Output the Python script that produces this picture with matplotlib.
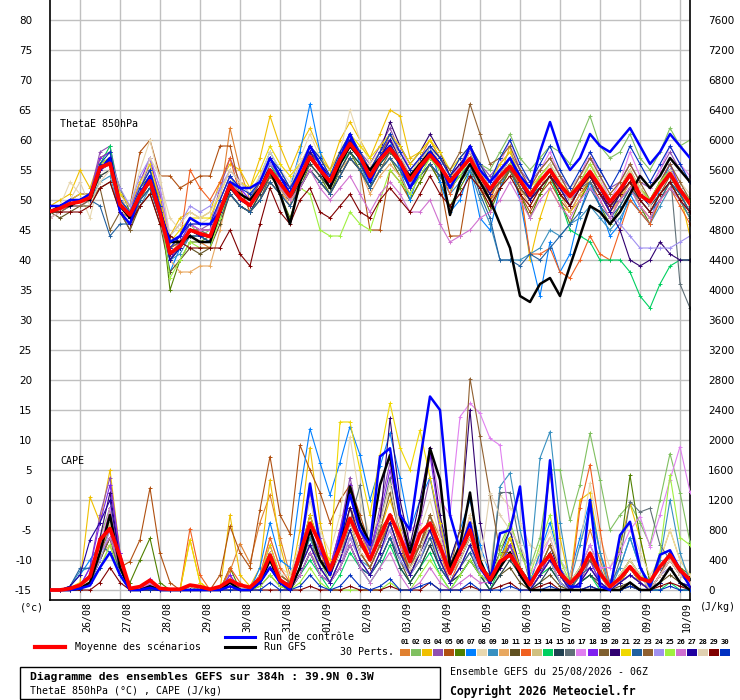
import matplotlib
matplotlib.use('Agg')
import matplotlib.pyplot as plt
from matplotlib.patches import Rectangle
from matplotlib.lines import Line2D
from matplotlib.transforms import blended_transform_factory

# ---------------- data ----------------
hours = list(range(0, 385, 6))            # 25/08 06Z .. 10/09 06Z
day_hours = list(range(18, 384, 24))      # 00Z of each day
day_labels = ['26/08', '27/08', '28/08', '29/08', '30/08', '31/08', '01/09', '02/09',
              '03/09', '04/09', '05/09', '06/09', '07/09', '08/09', '09/09', '10/09']
left_ticks = list(range(-15, 81, 5))
right_ticks = list(range(0, 7601, 400))

pert_colors = ['#e08030', '#80c060', '#f0c000', '#9050b0', '#b05010', '#508000', '#0080ff',
               '#e8d8b0', '#3890c0', '#e8a860', '#605020', '#f06020', '#d0c080', '#00d060',
               '#204050', '#607078', '#e080f0', '#8020f0', '#806030', '#300070', '#f0d800',
               '#2060a0', '#906030', '#a090f0', '#a0f040', '#d070d0', '#2000a0', '#e0d0b0',
               '#800000', '#0030c0']
pert_names = ['%02d' % (k + 1) for k in range(30)]

mean_thetae = [48.1, 48.6, 49.4, 49.7, 50.4, 55.4, 56.1, 49.2, 47.5, 50.8, 53.2, 47.8,
               41.1, 42.3, 45.0, 44.4, 43.9, 48.2, 52.5, 50.3, 49.1, 51.7, 55.0, 52.8,
               50.6, 53.9, 57.2, 55.0, 53.1, 56.7, 59.4, 57.2, 53.9, 56.7, 58.6, 56.4,
               53.3, 55.6, 57.5, 55.6, 53.1, 55.0, 56.9, 54.0, 51.8, 53.9, 55.6, 53.3,
               50.8, 53.1, 55.0, 52.5, 50.6, 52.5, 54.7, 52.2, 49.7, 51.7, 54.2, 50.8,
               49.7, 52.2, 54.4, 51.7, 49.4]
ctrl_thetae = [49, 49, 50, 50, 51, 55, 57, 48, 46, 51, 54, 48, 43, 44, 47, 46, 46, 48, 53, 52,
               52, 53, 57, 54, 51, 55, 59, 56, 53, 57, 61, 57, 53, 57, 59, 56, 52, 55, 58, 56,
               52, 55, 59, 55, 53, 55, 57, 54, 52, 58, 63, 58, 55, 57, 61, 59, 58, 60, 62, 59,
               56, 58, 61, 59, 57]
gfs_thetae = [48, 49, 49, 50, 50, 55, 57, 49, 47, 51, 53, 48, 43, 43, 44, 43, 43, 48, 52, 51,
              50, 52, 55, 51, 46, 53, 57, 55, 52, 56, 59, 57, 55, 57, 59, 56, 54, 56, 58, 56,
              47.5, 53, 56, 53, 50, 46, 42, 34, 33, 36, 37, 34, 39, 44, 49, 48, 46, 48, 51, 54,
              52, 54, 57, 55, 53]

p01_t = [48,49,50,50, 51,57,58,48, 47,52,55,47, 40,43,44,43, 42,50,62,55, 50,53,57,53, 50,55,59,56, 53,58,61,58, 55,58,60,57, 52,57,60,57, 54,56,58,55, 51,55,57,52, 50,54,56,51, 49,53,56,53, 50,52,55,52, 50,53,56,52, 49]
p02_t = [48,48,49,50, 50,55,57,50, 48,51,53,49, 42,43,46,44, 45,50,54,51, 50,52,56,54, 52,55,58,56, 54,57,60,58, 54,57,59,57, 54,57,59,56, 52,56,59,56, 55,58,61,57, 55,57,59,58, 56,60,64,59, 57,58,61,57, 55,58,62,59, 60]
p03_t = [49,50,51,55, 52,57,58,50, 48,52,55,50, 44,47,48,47, 48,53,56,55, 52,57,64,59, 55,59,62,58, 55,60,63,60, 57,61,65,64, 57,58,60,57, 54,55,58,53, 50,54,59,52, 40,47,52,49, 48,50,54,51, 48,50,55,52, 49,53,55,51, 44]
p04_t = [47,48,50,51, 51,58,59,51, 49,52,56,51, 42,44,46,45, 46,52,57,53, 51,52,55,54, 52,56,59,57, 55,58,60,58, 56,59,62,58, 55,57,58,56, 53,56,58,56, 54,56,58,55, 53,55,57,54, 52,54,57,55, 52,53,56,53, 52,55,58,55, 53]
p05_t = [48,48,49,50, 51,55,57,50, 49,58,60,54, 54,52,53,54, 54,59,59,52, 48,50,53,51, 50,52,55,53, 51,54,57,55, 45,45,55,53, 50,53,56,53, 44,44,54,52, 50,52,55,51, 48,51,53,50, 48,51,53,50, 47,50,53,49, 47,50,52,50, 47]
p06_t = [48,49,49,50, 50,55,57,52, 48,52,54,50, 35,40,43,43, 44,48,51,49, 48,51,55,51, 47,52,56,54, 51,55,58,55, 52,55,57,54, 50,53,56,53, 49,52,55,52, 48,52,55,51, 47,51,54,50, 46,50,53,49, 46,49,52,49, 46,50,53,50, 47]
p07_t = [49,49,50,50, 51,55,56,49, 47,51,54,48, 38,42,45,44, 43,48,53,51, 50,54,58,55, 52,58,66,58, 53,58,61,56, 52,57,60,55, 50,55,59,53, 48,50,55,47, 45,52,56,50, 41,34,43,38, 41,48,53,49, 44,46,51,48, 46,52,56,52, 50]
p08_t = [48,49,53,51, 47,54,55,50, 49,55,60,53, 47,45,46,46, 47,51,55,53, 51,54,57,55, 53,57,61,57, 54,58,65,60, 56,58,60,58, 54,57,59,57, 54,57,59,56, 53,55,57,54, 52,55,57,55, 52,54,56,54, 51,53,55,52, 50,52,55,53, 51]
p09_t = [48,48,49,49, 50,53,54,48, 46,49,52,47, 40,41,44,43, 43,47,51,49, 48,50,54,52, 50,53,56,54, 52,55,58,56, 52,55,57,55, 52,54,56,54, 51,53,55,50, 46,40,40,40, 41,42,45,44, 46,47,49,47, 45,47,50,48, 46,49,52,50, 47]
p10_t = [48,49,49,50, 50,54,55,49, 47,50,52,47, 40,38,38,39, 39,45,52,50, 49,51,54,52, 49,53,56,54, 52,55,57,55, 51,54,56,54, 51,54,56,54, 52,54,56,52, 49,53,56,52, 49,52,55,51, 48,51,54,51, 48,50,53,49, 47,50,53,50, 48]
p11_t = [48,47,48,49, 49,52,53,48, 45,49,51,46, 38,40,42,41, 42,46,51,49, 48,50,53,51, 49,52,55,53, 51,54,57,55, 52,55,57,55, 52,54,56,54, 52,54,56,53, 51,53,55,52, 50,52,54,51, 49,52,54,51, 48,51,53,50, 48,51,53,50, 48]
p12_t = [48,49,50,50, 51,56,57,50, 48,51,54,49, 41,43,55,52, 50,53,57,51, 50,53,57,54, 51,54,58,56, 53,57,60,57, 54,57,59,57, 54,56,58,55, 51,55,58,54, 50,54,57,52, 41,41,42,38, 37,40,44,41, 40,45,50,48, 46,50,52,49, 46]
p13_t = [48,49,49,50, 50,55,56,50, 48,51,53,48, 42,43,45,45, 44,48,52,50, 49,51,54,52, 50,53,56,54, 52,55,58,56, 53,55,57,55, 53,55,57,55, 53,55,56,54, 52,53,55,53, 51,53,55,52, 50,52,54,52, 49,51,53,51, 49,51,53,51, 49]
p14_t = [48,49,49,50, 51,56,59,50, 48,52,55,49, 40,42,45,44, 44,48,53,51, 50,52,56,53, 51,54,57,55, 53,56,58,56, 54,56,58,56, 53,55,57,55, 53,54,56,54, 52,54,55,53, 51,52,54,50, 45,44,43,40, 40,40,38,34, 32,36,39,40, 40]
p15_t = [48,49,49,50, 50,54,55,49, 47,50,52,47, 41,42,44,44, 43,47,51,49, 48,51,54,52, 50,53,56,54, 52,55,58,56, 53,56,58,56, 53,55,57,55, 53,55,57,54, 52,54,56,53, 51,53,55,52, 50,52,54,52, 49,51,53,51, 49,51,53,51, 48]
p16_t = [48,49,50,50, 51,56,57,50, 48,51,54,49, 42,43,45,45, 44,48,52,50, 49,52,55,53, 51,54,57,55, 53,56,59,57, 54,57,59,57, 54,56,58,56, 52,55,57,54, 51,53,55,52, 50,52,54,52, 50,52,53,51, 49,50,52,52, 50,53,55,36, 32]
p17_t = [47,48,49,49, 50,55,57,51, 49,53,57,52, 43,44,46,46, 46,50,54,52, 50,53,57,54, 52,55,58,56, 53,57,60,58, 55,58,61,59, 55,57,59,56, 53,56,59,56, 53,56,60,55, 52,55,58,54, 51,54,58,54, 50,53,58,54, 52,55,59,56, 54]
p18_t = [48,49,50,51, 51,57,58,50, 48,53,57,50, 40,43,46,45, 45,50,54,52, 50,53,57,54, 52,55,58,56, 54,57,60,58, 55,58,60,58, 55,57,59,57, 54,56,58,55, 52,55,57,54, 51,54,56,52, 50,53,55,52, 49,52,55,52, 50,53,56,52, 50]
p19_t = [48,48,49,49, 50,52,45,48, 45,50,53,48, 40,42,44,43, 43,47,51,49, 48,50,54,52, 50,52,55,53, 51,54,57,55, 52,55,58,56, 53,55,57,55, 52,54,56,53, 51,53,55,52, 50,52,54,52, 49,52,54,51, 48,51,53,50, 48,51,54,51, 48]
p20_t = [48,49,49,50, 50,55,56,49, 47,51,53,48, 41,42,45,44, 44,48,52,50, 49,52,56,54, 52,55,58,56, 54,57,60,58, 55,58,63,59, 56,58,61,58, 54,56,58,55, 52,54,56,53, 50,52,54,52, 50,52,54,52, 48,45,40,39, 40,43,41,40, 40]
p21_t = [48,49,50,51, 51,56,57,51, 49,53,56,50, 43,45,47,47, 47,51,55,53, 52,55,59,56, 54,56,59,57, 55,58,61,59, 57,59,61,59, 56,58,60,58, 55,57,59,56, 53,56,58,54, 52,54,56,53, 51,53,55,53, 50,52,55,52, 50,53,55,52, 49]
p22_t = [48,49,49,50, 50,49,44,46, 46,50,52,47, 40,42,44,44, 43,47,51,49, 48,50,53,51, 49,52,55,53, 51,54,57,55, 52,55,57,55, 52,54,56,54, 52,54,56,51, 47,40,40,39, 41,40,42,44, 46,48,52,49, 47,49,52,50, 48,50,53,51, 48]
p23_t = [48,49,49,50, 51,56,57,50, 48,51,54,49, 42,43,45,45, 45,49,53,51, 50,53,56,54, 51,55,58,56, 53,57,60,57, 54,57,61,57, 53,56,59,57, 55,58,66,61, 56,57,59,55, 52,55,57,54, 51,54,57,54, 51,53,56,53, 50,53,56,53, 50]
p24_t = [48,49,50,50, 51,55,57,52, 49,54,57,52, 44,46,49,48, 49,52,55,53, 51,53,56,54, 51,54,57,55, 53,56,59,57, 54,57,59,56, 53,55,58,55, 52,55,57,55, 53,55,57,54, 51,53,55,52, 50,52,54,51, 48,46,44,42, 42,42,42,43, 44]
p25_t = [48,49,50,50, 51,56,57,50, 48,51,54,49, 37,40,43,42, 42,47,52,50, 49,52,55,52, 50,52,51,45, 44,44,48,46, 45,50,55,53, 51,54,57,55, 52,54,57,55, 52,54,56,54, 51,54,56,53, 50,53,56,53, 50,52,55,52, 50,53,55,52, 50]
p26_t = [48,49,50,50, 51,55,56,50, 48,52,55,49, 42,44,46,45, 45,49,53,51, 50,52,55,52, 50,52,55,52, 50,52,54,51, 48,51,53,51, 48,48,50,46, 43,44,45,47, 48,50,53,50, 47,50,52,49, 47,50,52,50, 47,50,52,49, 47,50,52,50, 48]
p27_t = [48,49,49,50, 50,55,57,49, 47,51,53,48, 40,42,45,44, 44,48,52,50, 49,52,55,53, 51,54,58,55, 53,57,60,57, 54,57,60,57, 54,56,58,56, 53,55,57,54, 51,54,57,53, 50,53,55,52, 49,52,54,51, 48,51,54,51, 49,52,55,52, 49]
p28_t = [47,48,50,53, 49,53,55,50, 48,52,57,54, 44,46,48,47, 48,51,55,53, 51,54,58,55, 52,56,59,57, 54,58,61,58, 55,58,61,57, 54,56,59,56, 53,55,58,55, 52,54,57,54, 51,53,56,53, 50,53,55,53, 50,52,55,52, 49,52,55,52, 49]
p29_t = [48,48,48,48, 49,52,53,48, 46,49,51,46, 44,43,42,42, 42,42,45,41, 39,46,52,48, 46,50,52,48, 47,49,51,48, 47,50,52,50, 48,51,54,51, 49,51,54,52, 49,52,54,51, 49,52,54,51, 49,52,54,51, 49,51,53,50, 48,51,53,50, 48]
p30_t = [49,49,50,50, 51,56,58,50, 48,52,55,49, 42,44,46,46, 46,50,54,52, 51,53,57,55, 52,55,59,57, 54,58,61,58, 55,58,61,58, 55,57,59,57, 54,57,59,56, 53,57,60,56, 53,56,59,55, 52,55,58,55, 52,55,59,56, 53,56,59,56, 53]

mean_cape = [0, 0, 20, 65, 180, 670, 820, 445, 20, 45, 130, 20, 10, 10, 65, 45, 10, 45, 130, 65,
             35, 155, 465, 133, 45, 490, 890, 620, 267, 578, 955, 667, 400, 711, 1000, 711,
             378, 755, 890, 578, 222, 511, 800, 330, 133, 378, 466, 267, 67, 311, 466, 222,
             89, 222, 490, 222, 45, 155, 311, 155, 111, 311, 466, 267, 133]
ctrl_cape = [0, 0, 0, 20, 60, 300, 500, 200, 0, 0, 30, 0, 0, 0, 0, 0, 0, 0, 50, 0,
             0, 100, 300, 100, 0, 500, 1420, 600, 200, 700, 1270, 800, 600, 1780, 1890, 1000,
             800, 1730, 2580, 2400, 1000, 530, 900, 300, 100, 755, 800, 1380, 90, 270, 1730, 270,
             45, 45, 1200, 50, 0, 730, 910, 310, 45, 470, 530, 270, 45]
gfs_cape = [0, 0, 0, 20, 100, 500, 1000, 300, 0, 0, 50, 0, 0, 0, 0, 0, 0, 0, 100, 0,
            0, 100, 400, 100, 0, 300, 800, 400, 200, 600, 1380, 900, 620, 1400, 1800, 1000,
            500, 1000, 1890, 1470, 300, 600, 1300, 400, 100, 300, 500, 200, 0, 0, 0, 0,
            0, 0, 0, 0, 0, 0, 100, 0, 0, 100, 300, 100, 0]

p01_c = [0,0,0,40, 150,500,900,300, 0,0,80,0, 0,0,0,0, 0,0,250,620, 360,900,1270,700, 200,500,900,600, 300,500,1100,800, 400,700,1000,600, 300,600,1000,700, 200,500,1000,400, 100,300,700,300, 0,200,500,200, 0,300,800,400, 0,100,300,100, 0,200,400,200, 100]
p02_c = [0,0,20,80, 200,700,1100,400, 0,0,100,0, 0,0,50,0, 0,0,100,0, 0,100,300,100, 0,300,700,400, 100,400,800,500, 300,600,900,500, 200,400,700,400, 100,300,600,300, 200,600,900,500, 300,700,1600,1600, 930,1400,2090,1470, 800,1000,1150,900, 600,1200,1820,1300, 640]
p03_c = [0,0,30,100, 1240,900,1600,500, 0,0,100,0, 0,0,670,100, 0,0,1000,200, 50,300,1470,600, 100,800,1900,900, 300,800,1300,900, 400,800,1200,800, 300,600,1000,600, 200,500,800,400, 100,400,700,300, 100,500,1550,700, 100,1200,1300,500, 0,600,1150,700, 100,400,800,400, 200]
p04_c = [0,0,0,50, 300,1000,1500,500, 0,0,50,0, 0,0,0,0, 0,0,200,0, 0,100,500,100, 100,600,1300,700, 300,800,1500,900, 500,1100,1700,900, 400,900,1500,800, 200,500,900,300, 100,300,600,200, 0,200,400,100, 0,100,400,100, 0,100,200,100, 0,200,500,200, 100]
p05_c = [0,0,0,40, 200,600,800,300, 380,670,1360,490, 100,0,50,0, 0,200,850,500, 300,1070,1780,1000, 750,1930,1600,1300, 900,1200,1400,1000, 600,800,1000,700, 400,600,900,500, 300,500,700,300, 200,400,600,300, 100,300,500,200, 0,200,400,200, 0,100,300,100, 0,200,400,200, 100]
p06_c = [0,0,0,30, 100,500,1100,290, 100,400,690,100, 0,0,50,0, 0,0,300,0, 0,200,500,200, 100,400,700,400, 200,500,900,500, 300,600,900,500, 300,500,900,600, 200,400,700,300, 100,300,500,200, 0,200,400,100, 0,200,500,200, 100,510,1530,700, 100,300,500,300, 200]
p07_c = [0,0,50,200, 400,600,800,300, 0,0,50,0, 0,0,0,0, 0,0,100,0, 0,300,900,400, 300,1300,2150,1700, 1270,1700,2180,1800, 1200,1650,2090,1500, 800,1200,1500,900, 400,800,1200,600, 200,400,800,300, 100,500,900,400, 200,700,1200,500, 100,300,700,300, 100,300,500,200, 100]
p08_c = [0,0,0,30, 100,400,700,200, 0,0,50,0, 0,0,50,0, 0,0,100,0, 0,200,700,300, 200,600,1200,800, 500,1000,2040,1200, 700,1000,1300,900, 500,800,1200,700, 300,600,1000,500, 300,1270,1100,900, 600,500,800,400, 200,600,1430,700, 300,600,900,500, 200,400,800,400, 200]
p09_c = [0,0,50,250, 300,500,700,300, 0,0,30,0, 0,0,0,0, 0,0,50,0, 0,100,300,100, 0,300,700,300, 100,400,800,400, 300,600,900,500, 200,500,800,400, 100,300,600,200, 100,1380,1560,800, 300,1760,2110,900, 100,600,1100,500, 0,300,700,300, 0,400,1200,500, 100]
p10_c = [0,0,0,50, 150,450,600,200, 0,0,50,0, 0,0,0,0, 0,0,50,0, 0,100,300,100, 0,300,600,300, 100,300,700,400, 200,500,800,400, 200,400,700,400, 100,300,500,200, 100,300,500,200, 0,200,400,100, 0,200,300,100, 0,100,200,100, 0,200,400,200, 100]
p11_c = [0,0,0,0, 100,400,700,200, 0,0,0,0, 0,0,0,0, 0,0,50,0, 0,50,200,50, 0,200,500,200, 100,300,600,300, 200,400,700,400, 100,300,600,300, 100,200,400,200, 0,200,300,100, 0,100,200,50, 0,100,200,50, 0,50,100,0, 0,100,200,100, 0]
p12_c = [0,0,0,50, 200,600,1000,300, 0,0,100,0, 0,0,820,200, 0,0,300,100, 0,200,700,300, 100,500,1000,500, 200,500,900,500, 300,600,1000,600, 200,500,800,500, 100,400,700,300, 100,300,600,200, 0,200,500,200, 0,1100,1670,800, 0,200,400,200, 0,200,500,200, 100]
p13_c = [0,0,0,30, 100,300,600,200, 0,0,50,0, 0,0,0,0, 0,0,50,0, 0,100,300,100, 0,200,500,300, 100,300,700,400, 200,500,800,400, 200,400,700,400, 100,300,500,200, 100,200,400,200, 0,200,300,100, 0,100,300,100, 0,100,200,100, 0,200,300,100, 50]
p14_c = [0,0,0,50, 200,500,900,300, 0,0,50,0, 0,0,0,0, 0,0,100,0, 0,100,300,100, 0,200,400,200, 0,200,500,300, 100,300,600,300, 100,300,500,200, 0,200,400,200, 0,300,600,300, 0,200,300,100, 0,100,200,0, 0,0,50,0, 0,0,100,0, 0]
p15_c = [0,0,0,20, 100,400,700,200, 0,0,50,0, 0,0,0,0, 0,0,50,0, 0,100,300,100, 0,200,500,200, 100,300,600,300, 200,400,700,300, 100,300,600,300, 100,200,400,200, 0,200,400,200, 0,100,300,100, 0,100,200,100, 0,100,200,100, 0,100,300,100, 50]
p16_c = [0,0,0,30, 100,400,700,200, 0,0,50,0, 0,0,0,0, 0,0,50,0, 0,100,400,100, 0,300,600,300, 100,400,900,1400, 500,900,1500,700, 300,600,1000,500, 200,400,700,300, 100,1300,1300,600, 100,300,500,200, 0,300,600,300, 0,400,1180,1040, 1090,600,400,200, 100]
p17_c = [0,0,0,40, 200,600,1100,400, 0,0,100,0, 0,0,0,0, 0,0,100,0, 0,100,300,100, 0,300,600,300, 100,400,700,400, 200,500,800,500, 800,900,1900,1200, 1000,2310,2490,2355, 2022,1930,850,500, 200,400,700,300, 100,300,600,300, 300,500,800,978, 578,1000,1470,1911, 1311]
p18_c = [0,0,0,50, 300,900,1400,500, 0,0,150,0, 0,0,0,0, 0,0,200,0, 0,200,600,200, 100,400,800,500, 300,800,1400,800, 500,1000,1600,1000, 400,1000,1800,900, 200,500,800,400, 100,300,600,300, 0,200,500,200, 0,200,400,100, 0,100,300,100, 0,200,400,200, 100]
p19_c = [0,0,0,30, 100,400,700,300, 0,0,50,0, 0,0,0,0, 0,0,100,0, 0,100,300,100, 0,300,600,400, 300,600,1100,600, 400,800,1300,700, 200,500,800,500, 200,400,700,300, 100,400,700,300, 100,300,500,200, 0,200,400,200, 0,100,300,100, 0,200,400,200, 100]
p20_c = [0,0,0,30, 200,700,1300,400, 0,0,50,0, 0,0,0,0, 0,0,100,0, 0,200,500,200, 100,500,1000,600, 300,600,1100,700, 400,900,2290,1200, 600,1200,1900,1000, 400,800,2400,900, 200,500,800,300, 100,300,600,200, 0,300,500,200, 0,100,300,100, 0,200,500,200, 100]
p21_c = [0,0,0,80, 200,500,900,300, 0,0,50,0, 0,0,670,100, 0,0,150,0, 0,200,600,200, 100,500,1000,600, 400,2240,2240,1600, 1000,1800,2490,1900, 1600,2130,1500,900, 300,600,900,400, 100,400,700,300, 100,300,600,300, 0,200,500,200, 0,100,300,100, 0,200,400,200, 100]
p22_c = [0,0,50,290, 290,600,500,300, 0,0,30,0, 0,0,0,0, 0,0,50,0, 0,100,300,100, 0,200,500,200, 100,300,600,300, 200,400,700,400, 200,400,700,300, 100,300,500,200, 100,300,500,200, 0,200,400,200, 0,200,300,100, 0,100,200,100, 0,100,300,100, 50]
p23_c = [0,0,0,40, 100,500,800,300, 0,0,50,0, 0,0,0,0, 0,0,100,0, 0,200,500,200, 100,400,800,400, 200,500,900,500, 300,600,900,500, 300,600,1000,600, 300,800,2820,2050, 1270,500,500,300, 100,300,600,300, 100,300,500,200, 0,200,400,200, 0,200,500,200, 100]
p24_c = [0,0,0,30, 100,400,800,300, 0,0,50,0, 0,0,0,0, 0,0,100,0, 0,100,400,100, 0,300,600,300, 100,300,700,400, 200,500,800,400, 200,400,800,400, 100,300,600,200, 100,300,500,200, 0,200,400,100, 0,100,300,100, 0,100,200,100, 0,200,300,100, 50]
p25_c = [0,0,0,30, 100,300,600,200, 0,0,30,0, 0,0,0,0, 0,0,50,0, 0,50,200,50, 0,100,300,100, 0,0,0,0, 0,0,100,0, 0,200,400,200, 0,200,400,200, 100,500,900,500, 200,600,1000,400, 100,300,500,200, 0,200,400,200, 100,500,1530,700, 600]
p26_c = [0,0,0,30, 100,500,700,300, 0,0,80,0, 0,0,0,0, 0,0,100,0, 0,100,400,100, 0,200,500,200, 100,300,600,300, 100,300,500,200, 0,100,300,100, 0,100,200,100, 100,300,500,200, 0,200,400,200, 0,100,300,100, 0,100,200,100, 0,200,400,200, 100]
p27_c = [0,0,50,200, 670,900,1200,400, 0,0,50,0, 0,0,0,0, 0,0,50,0, 0,100,300,100, 0,300,600,300, 100,400,800,400, 200,500,900,500, 200,500,800,400, 100,300,600,300, 100,300,500,200, 0,200,400,200, 0,100,300,100, 0,100,200,100, 0,100,300,100, 50]
p28_c = [0,0,0,40, 150,500,900,300, 0,0,50,0, 0,0,0,0, 0,0,100,0, 0,200,500,200, 200,600,1200,600, 200,500,900,500, 400,900,1400,700, 300,500,900,500, 200,400,700,300, 1300,1000,800,600, 300,500,700,300, 100,300,500,200, 0,200,400,200, 0,200,400,200, 100]
p29_c = [0,0,0,0, 0,100,300,100, 0,0,0,0, 0,0,0,0, 0,0,0,0, 0,0,0,0, 0,0,50,0, 0,0,50,0, 0,0,50,0, 0,0,100,0, 0,0,50,0, 0,50,100,0, 0,50,100,0, 0,0,50,0, 0,0,50,0, 0,50,100,50, 0]
p30_c = [0,0,0,20, 100,300,500,200, 0,0,0,0, 0,0,0,0, 0,0,0,0, 0,0,100,0, 0,50,200,50, 0,50,200,50, 0,50,150,0, 0,50,100,0, 0,0,100,0, 0,0,50,0, 0,0,50,0, 0,0,50,0, 0,0,50,0, 0,0,50,0, 0]

pert_thetae = [p01_t, p02_t, p03_t, p04_t, p05_t, p06_t, p07_t, p08_t, p09_t, p10_t,
               p11_t, p12_t, p13_t, p14_t, p15_t, p16_t, p17_t, p18_t, p19_t, p20_t,
               p21_t, p22_t, p23_t, p24_t, p25_t, p26_t, p27_t, p28_t, p29_t, p30_t]
pert_cape = [p01_c, p02_c, p03_c, p04_c, p05_c, p06_c, p07_c, p08_c, p09_c, p10_c,
             p11_c, p12_c, p13_c, p14_c, p15_c, p16_c, p17_c, p18_c, p19_c, p20_c,
             p21_c, p22_c, p23_c, p24_c, p25_c, p26_c, p27_c, p28_c, p29_c, p30_c]

# ---------------- figure ----------------
W, H = 740, 700
MONO = 'DejaVu Sans Mono'
fig = plt.figure(figsize=(W / 100, H / 100), dpi=100)
ax = fig.add_axes([50 / W, 100 / H, 640 / W, 600 / H])
ax.set_xlim(0, 384)
ymin, ymax = -15 - 10 / 6, 80 + 20 / 6
ax.set_ylim(ymin, ymax)
ax.set_yticks(left_ticks)
ax.set_yticklabels([str(v) for v in left_ticks], fontsize=7.5, family='DejaVu Sans')
ax.set_xticks(day_hours)
ax.set_xticklabels([])
ax.grid(True, color='#c0c0c0', lw=1.0)
ax.set_axisbelow(True)
ax.tick_params(length=0, pad=13)
for s in ('left', 'right', 'bottom'):
    ax.spines[s].set_color('black')
    ax.spines[s].set_linewidth(1.2)
ax.spines['top'].set_visible(False)

ax2 = ax.twinx()
ax2.set_ylim((ymin + 15) * 80, (ymax + 15) * 80)
ax2.set_yticks(right_ticks)
ax2.set_yticklabels([str(v) for v in right_ticks], fontsize=7.5, family='DejaVu Sans')
ax2.tick_params(length=0, pad=13)
for s in ax2.spines.values():
    s.set_visible(False)

mk = dict(marker='+', markersize=3.5, markeredgewidth=0.7)
for vals, col in zip(pert_thetae, pert_colors):
    ax.plot(hours, vals, color=col, lw=0.8, **mk)
for vals, col in zip(pert_cape, pert_colors):
    ax2.plot(hours, vals, color=col, lw=0.8, **mk)

ax.plot(hours, gfs_thetae, color='black', lw=1.8, zorder=5)
ax.plot(hours, ctrl_thetae, color='#0000ff', lw=1.8, zorder=6)
ax.plot(hours, mean_thetae, color='#ff0000', lw=2.7, zorder=7)
ax2.plot(hours, gfs_cape, color='black', lw=1.8, zorder=5)
ax2.plot(hours, ctrl_cape, color='#0000ff', lw=1.8, zorder=6)
ax2.plot(hours, mean_cape, color='#ff0000', lw=2.7, zorder=7)

ax.text(6, 80 - (124 - 20) / 6, 'ThetaE 850hPa', family=MONO, fontsize=7.2,
        ha='left', va='center')
ax.text(6, 80 - (461 - 20) / 6, 'CAPE', family=MONO, fontsize=7.2,
        ha='left', va='center')

trans = blended_transform_factory(ax.transData, ax.transAxes)
for h, lab in zip(day_hours, day_labels):
    ax.text(h + 4.2, -0.004, lab, transform=trans, rotation=90, ha='center', va='top',
            family=MONO, fontsize=7.2)


def fx(px):
    return px / W


def fy(py):
    return 1 - py / H


fig.text(fx(20), fy(607), '(°c)', family=MONO, fontsize=7.2, ha='left', va='center')
fig.text(fx(700), fy(607), '(J/kg)', family=MONO, fontsize=7.2, ha='left', va='center')

# legend lines
fig.add_artist(Line2D([fx(35), fx(65)], [fy(647), fy(647)], color='#ff0000', lw=3.0))
fig.text(fx(75), fy(647), 'Moyenne des scénarios', family=MONO, fontsize=7.2, ha='left', va='center')
fig.add_artist(Line2D([fx(225), fx(255)], [fy(636.5), fy(636.5)], color='#0000ff', lw=2.2))
fig.text(fx(264), fy(636.5), 'Run de contrôle', family=MONO, fontsize=7.2, ha='left', va='center')
fig.add_artist(Line2D([fx(225), fx(255)], [fy(647), fy(647)], color='black', lw=2.2))
fig.text(fx(264), fy(647), 'Run GFS', family=MONO, fontsize=7.2, ha='left', va='center')
fig.text(fx(340), fy(652), '30 Perts.', family=MONO, fontsize=7.2, ha='left', va='center')

for k, (name, col) in enumerate(zip(pert_names, pert_colors)):
    x0 = 400 + k * 11.03
    fig.add_artist(Rectangle((fx(x0), fy(655.5)), 10 / W, 6.5 / H, facecolor=col,
                             edgecolor='none', transform=fig.transFigure))
    fig.text(fx(x0 + 5), fy(642), name, family=MONO, fontsize=5.2, fontweight='bold',
             ha='center', va='center')

# info box
fig.add_artist(Rectangle((fx(20), fy(699)), 420 / W, 32 / H, facecolor='none',
                         edgecolor='black', lw=1.0, transform=fig.transFigure))
fig.text(fx(30), fy(677), 'Diagramme des ensembles GEFS sur 384h : 39.9N 0.3W',
         family=MONO, fontsize=8.2, fontweight='bold', ha='left', va='center')
fig.text(fx(30), fy(691), 'ThetaE 850hPa (°C) , CAPE (J/kg)', family=MONO, fontsize=7.1,
         ha='left', va='center')
fig.text(fx(450), fy(672), 'Ensemble GEFS du 25/08/2026 - 06Z', family=MONO, fontsize=7.1,
         ha='left', va='center')
fig.text(fx(450), fy(691), 'Copyright 2026 Meteociel.fr', family=MONO, fontsize=8.3,
         fontweight='bold', ha='left', va='center')

fig.savefig('out.png', dpi=100)
